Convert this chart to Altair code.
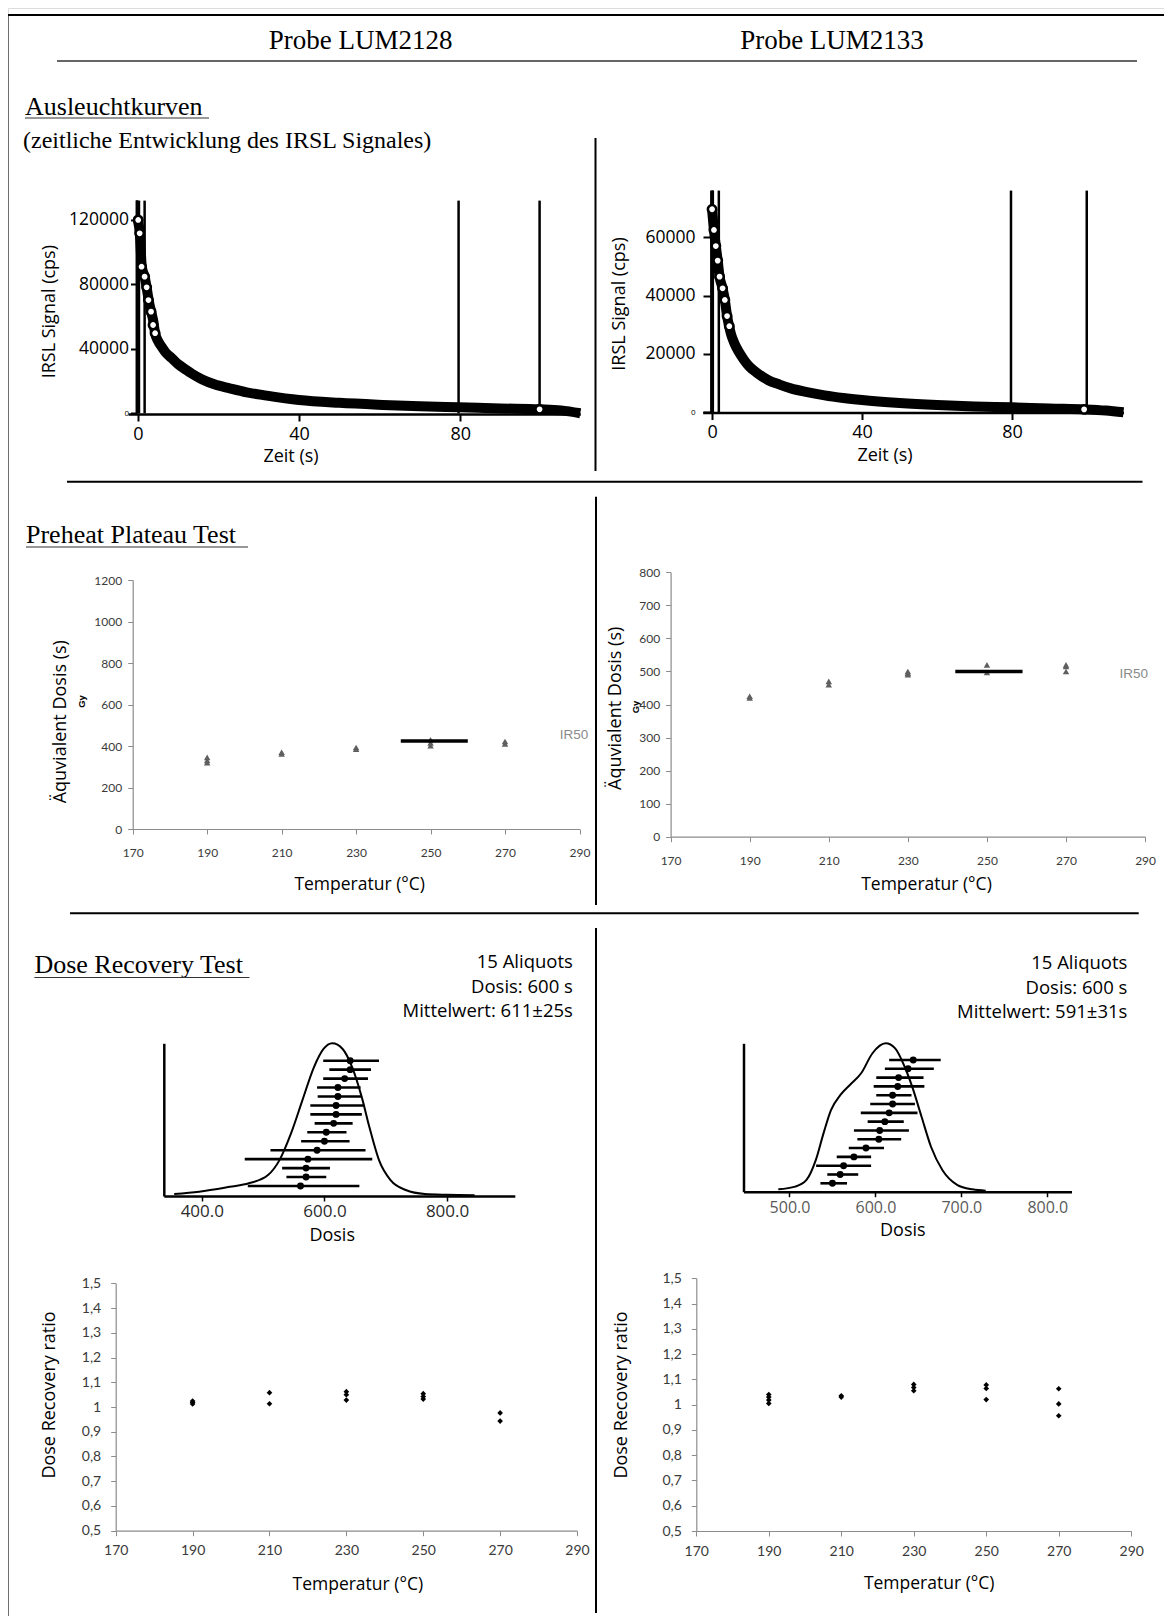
import altair as alt
import pandas as pd

W, H = 1156, 1608
OFF = 8


def P(v):
    return v - OFF


SERIF = "Liberation Serif"
SANS = "Open Sans"
XL = "Lato"
ARIAL = "Liberation Sans"

# ---------------- data ----------------
# IRSL decay curves (Ausleuchtkurven)
irsl_l_time = [0, 0.5, 1.0, 1.7, 2.2, 2.7, 3.3, 3.8, 4.3, 5, 6, 7, 8.5, 10, 12, 13.3, 16, 19, 22.8, 27,
               32, 40, 50, 60.8, 70, 79.7, 90, 99.7, 105, 109.8]
irsl_l_sig = [120000, 111700, 91000, 84800, 78200, 70300, 63100, 57900, 49700, 45000, 41000, 37500, 34100,
              30500, 27000, 24800, 21000, 18000, 15500, 13000, 11000, 8300, 6500, 5200, 4300, 3700, 3000,
              2500, 1800, 0]
irsl_l_circ_t = [0.1, 0.47, 0.94, 1.7, 2.2, 2.65, 3.3, 3.8, 4.3, 99.7]
irsl_l_circ_v = [120000, 111700, 91000, 84800, 78200, 70300, 63100, 54800, 49700, 2500]
irsl_l_spike_t = [-0.2, 0.3, 1.7, 79.6, 99.7]
irsl_l_spike_top = 132000

irsl_r_time = [0, 0.5, 1, 1.5, 2, 2.8, 3.4, 4, 5, 6, 7, 8.5, 10, 12, 15, 18, 21, 25, 30, 35, 40, 50, 60,
               70, 80, 90, 99.6, 105, 109.7]
irsl_r_sig = [69600, 62500, 57000, 52000, 46500, 42500, 38500, 33000, 27000, 23500, 21000, 18000, 15600,
              13500, 11000, 9500, 8200, 7000, 5800, 4900, 4200, 3200, 2500, 2000, 1700, 1300, 1000, 600, 0]
irsl_r_circ_t = [0, 0.5, 1, 1.5, 2, 2.8, 3.4, 4, 4.6, 99.2]
irsl_r_circ_v = [69600, 62500, 57000, 52000, 46500, 42500, 38500, 33000, 29500, 1000]
irsl_r_spike_t = [-0.2, 0.2, 1.8, 79.7, 99.9]
irsl_r_spike_top = 76000

# Preheat plateau test
ph_l_temp = [190, 190, 190, 210, 210, 230, 230, 250, 250, 250, 270, 270]
ph_l_de = [345, 330, 320, 370, 362, 393, 385, 430, 415, 402, 422, 410]
ph_l_plateau = (242, 260, 424)
ph_r_temp = [190, 190, 210, 210, 230, 230, 230, 250, 250, 270, 270, 270]
ph_r_de = [425, 420, 470, 460, 500, 490, 495, 520, 497, 520, 515, 500]
ph_r_plateau = (242, 259, 500)

# Dose recovery: kernel density curves
kde_l_dose = [355, 395.6, 445.5, 476.8, 508, 526.7, 545.5, 564, 582.8, 598.5, 612.8, 629.7, 645.3, 661,
              673.4, 689, 707.8, 732.7, 763.8, 800, 845]
kde_l_dens = [0.013, 0.028, 0.06, 0.083, 0.137, 0.235, 0.41, 0.626, 0.843, 0.963, 1.0, 0.963, 0.843, 0.646,
              0.45, 0.235, 0.104, 0.039, 0.013, 0.008, 0.005]
kde_r_dose = [487, 506.6, 519.8, 530.7, 539.6, 548.3, 559.3, 570.3, 583.4, 596.6, 612, 623, 634, 642.8,
              653.7, 664.7, 677.9, 695.5, 713, 728.4]
kde_r_dens = [0.016, 0.034, 0.079, 0.214, 0.393, 0.55, 0.652, 0.719, 0.798, 0.933, 1.0, 0.966, 0.842, 0.708,
              0.505, 0.303, 0.146, 0.045, 0.016, 0.007]

# Dose recovery: individual aliquots (top row first)
rows = list(range(1, 16))
de_l = [642, 642, 633, 622, 622, 619, 619, 615, 603, 600, 588, 573, 570, 570, 561]
lo_l = [598, 608, 598, 588, 589, 577, 577, 584, 572, 562, 512, 470, 531, 538, 475]
hi_l = [689, 676, 671, 659, 661, 665, 661, 646, 636, 641, 667, 678, 609, 603, 657]
de_r = [644, 638, 627, 626, 620, 620, 616, 611, 605, 604, 589, 575, 563, 559, 550]
lo_r = [616, 611, 601, 598, 601, 594, 583, 591, 575, 579, 569, 555, 531, 544, 536]
hi_r = [676, 668, 656, 657, 642, 646, 649, 633, 639, 630, 610, 595, 595, 580, 567]

# Dose recovery ratio vs preheat temperature
dr_l_temp = [190, 190, 190, 210, 210, 230, 230, 230, 250, 250, 250, 270, 270]
dr_l_ratio = [1.024, 1.012, 1.018, 1.058, 1.013, 1.062, 1.050, 1.028, 1.054, 1.042, 1.032, 0.976, 0.943]
dr_r_temp = [190, 190, 190, 190, 210, 210, 230, 230, 230, 250, 250, 250, 270, 270, 270]
dr_r_ratio = [1.04, 1.03, 1.018, 1.005, 1.035, 1.03, 1.08, 1.068, 1.055, 1.078, 1.064, 1.02, 1.063, 1.003,
              0.956]

temp_ticks = [170, 190, 210, 230, 250, 270, 290]

ONE = pd.DataFrame({"k": [0]})
layers = []


# ---------------- helpers ----------------
def dec_rule(x1, y1, x2, y2, w=2.0, color="black"):
    return alt.Chart(ONE).mark_rule(strokeWidth=w, color=color).encode(
        x=alt.value(P(x1)), y=alt.value(P(y1)), x2=alt.value(P(x2)), y2=alt.value(P(y2)))


def dec_text(s, x, y, size, font, align="left", baseline="alphabetic", angle=0, color="black",
             weight="normal"):
    return alt.Chart(ONE).mark_text(text=s, font=font, fontSize=size, align=align, baseline=baseline,
                                    angle=angle, color=color, fontWeight=weight).encode(
        x=alt.value(P(x)), y=alt.value(P(y)))


def lin(domain, r0, r1):
    return alt.Scale(domain=domain, range=[P(r0), P(r1)], nice=False, zero=False)


def bottom_axis(ypos, values, **kw):
    base = dict(orient="bottom", offset=P(ypos) - H, values=values, grid=False, title=None,
                labelFlush=False, labelOverlap=False)
    base.update(kw)
    return alt.Axis(**base)


def left_axis(xpos, values, **kw):
    base = dict(orient="left", offset=-P(xpos), values=values, grid=False, title=None,
                labelFlush=False, labelOverlap=False)
    base.update(kw)
    return alt.Axis(**base)


# ---------------- frame & headings ----------------
layers += [
    dec_rule(7.5, 15, 1167, 15),
    dec_rule(7.5, 15, 7.5, 1617),
    dec_rule(1167, 15, 1167, 1617),
    dec_rule(7.5, 1617, 1167, 1617),
    dec_text("Probe LUM2128", 360.7, 49, 27, SERIF, align="center"),
    dec_text("Probe LUM2133", 832, 48.5, 27, SERIF, align="center"),
    dec_rule(57, 61, 1137, 61, w=1.6, color="#333"),
    dec_text("Ausleuchtkurven", 25, 115, 26, SERIF),
    dec_rule(25, 118, 209, 118, w=1.2, color="#333"),
    dec_text("(zeitliche Entwicklung des IRSL Signales)", 23, 148, 24, SERIF),
    dec_rule(595.5, 138, 595.5, 471, w=2),
    dec_rule(67, 481.7, 1142.5, 481.7, w=2),
    dec_text("Preheat Plateau Test", 26, 543.3, 26, SERIF),
    dec_rule(26, 547, 248, 547, w=1.2, color="#333"),
    dec_rule(596, 496.7, 596, 905, w=2),
    dec_rule(70, 913.3, 1138.7, 913.3, w=2),
    dec_text("Dose Recovery Test", 34.4, 973.3, 26, SERIF),
    dec_rule(34.4, 977.5, 249.5, 977.5, w=1.2, color="#333"),
    dec_rule(596, 928, 596, 1613, w=2),
]


# ---------------- IRSL panels ----------------
def irsl_panel(t, sig, ct, cv, st, stop, xdom, xr, ydom, yr, ax_y, ax_x, yticks, ytick, ypad):
    xs = lin(xdom, xr[0], xr[1])
    ys = lin(ydom, yr[0], yr[1])
    xa = bottom_axis(ax_y, [0, 40, 80], format="d", tickSize=7, tickWidth=2, domainWidth=2.5,
                     domainColor="black", tickColor="black", labelColor="black", labelFont=SANS,
                     labelFontSize=18, labelPadding=4)
    ya = left_axis(ax_x, yticks, format="d", tickSize=ytick, tickWidth=2, domainWidth=2.5,
                   domainColor="black", tickColor="black", labelColor="black", labelFont=SANS,
                   labelFontSize={"condition": {"test": "datum.value == 0", "value": 8}, "value": 17.5},
                   labelPadding=ypad)
    band = alt.Chart(pd.DataFrame({"t": t, "s": sig})).mark_line(
        color="black", strokeWidth=10, interpolate="monotone").encode(
        x=alt.X("t:Q", scale=xs, axis=xa), y=alt.Y("s:Q", scale=ys, axis=ya))
    spikes = alt.Chart(pd.DataFrame({"t": st, "b": [0] * len(st), "top": [stop] * len(st)})).mark_rule(
        color="black", strokeWidth=2.5).encode(
        x=alt.X("t:Q", scale=xs, axis=xa), y=alt.Y("b:Q", scale=ys, axis=ya), y2="top:Q")
    circ = alt.Chart(pd.DataFrame({"t": ct, "s": cv})).mark_point(
        shape="circle", size=70, filled=False, color="black", strokeWidth=2.6, fill="white",
        fillOpacity=1).encode(
        x=alt.X("t:Q", scale=xs, axis=xa), y=alt.Y("s:Q", scale=ys, axis=ya))
    return alt.layer(spikes, band, circ)


layers.append(irsl_panel(irsl_l_time, irsl_l_sig, irsl_l_circ_t, irsl_l_circ_v, irsl_l_spike_t,
                         irsl_l_spike_top, [-2.4, 109.8], (128.1, 580.3), [0, 132500], (413.3, 199.8),
                         414, 136.5, [0, 40000, 80000, 120000], 6, 2))
layers.append(irsl_panel(irsl_r_time, irsl_r_sig, irsl_r_circ_t, irsl_r_circ_v, irsl_r_spike_t,
                         irsl_r_spike_top, [-2.5, 109.7], (702.7, 1123.5), [0, 76200], (412.3, 190.0),
                         412.5, 712, [0, 20000, 40000, 60000], 9, 8))
layers += [
    dec_text("IRSL Signal (cps)", 49.7, 311.7, 18, SANS, align="center", baseline="middle", angle=270),
    dec_text("IRSL Signal (cps)", 619.6, 304, 18, SANS, align="center", baseline="middle", angle=270),
    dec_text("Zeit (s)", 291, 457, 18, SANS, align="center", baseline="middle"),
    dec_text("Zeit (s)", 885, 456, 18, SANS, align="center", baseline="middle"),
]

# ---------------- Excel-style axes ----------------
GRAY = "#8c8c8c"
LAB = "#3a3a3a"


def excel_axes(ax_y, ax_x, yvals, xsize, ysize, xpad, ypad, yexpr=None):
    xa = bottom_axis(ax_y, temp_ticks, format="d", tickSize=5, tickWidth=1, domainWidth=1.2,
                     domainColor=GRAY, tickColor=GRAY, labelColor=LAB, labelFont=XL,
                     labelFontSize=xsize, labelPadding=xpad)
    ykw = dict(tickSize=5, tickWidth=1, domainWidth=1.2, domainColor=GRAY, tickColor=GRAY,
               labelColor=LAB, labelFont=XL, labelFontSize=ysize, labelPadding=ypad)
    if yexpr:
        ykw["labelExpr"] = yexpr
    else:
        ykw["format"] = "d"
    ya = left_axis(ax_x, yvals, **ykw)
    return xa, ya


def preheat_panel(temp, de, plateau, xr, ydom, yr, ystep):
    xs = lin([170, 290], xr[0], xr[1])
    ys = lin(ydom, yr[0], yr[1])
    xa, ya = excel_axes(yr[0], xr[0], list(range(0, ydom[1] + 1, ystep)), 12, 12, 13.5, 6)
    pts = alt.Chart(pd.DataFrame({"T": temp, "D": de})).mark_point(
        shape="triangle-up", size=42, filled=True, color="#5f5f5f", opacity=1).encode(
        x=alt.X("T:Q", scale=xs, axis=xa), y=alt.Y("D:Q", scale=ys, axis=ya))
    pl = alt.Chart(pd.DataFrame({"a": [plateau[0]], "b": [plateau[1]], "v": [plateau[2]]})).mark_rule(
        color="black", strokeWidth=3.5).encode(
        x=alt.X("a:Q", scale=xs, axis=xa), x2="b:Q", y=alt.Y("v:Q", scale=ys, axis=ya))
    return alt.layer(pts, pl)


layers.append(preheat_panel(ph_l_temp, ph_l_de, ph_l_plateau, (132.7, 579.5), [0, 1200], (829, 580), 200))
layers.append(preheat_panel(ph_r_temp, ph_r_de, ph_r_plateau, (670.6, 1145.1), [0, 800], (836.7, 572.3),
                            100))
layers += [
    dec_text("Äquvialent Dosis (s)", 61.2, 721.7, 18, SANS, align="center", baseline="middle", angle=270),
    dec_text("Äquvialent Dosis (s)", 615.9, 708.3, 18, SANS, align="center", baseline="middle", angle=270),
    dec_text("Gy", 82.3, 701.5, 9.5, ARIAL, align="center", baseline="middle", angle=270, weight="bold"),
    dec_text("Gy", 635.9, 707, 9.5, ARIAL, align="center", baseline="middle", angle=270, weight="bold"),
    dec_text("IR50", 574, 735, 13.5, ARIAL, align="center", baseline="middle", color="#8a8a8a"),
    dec_text("IR50", 1133.8, 674.3, 13.5, ARIAL, align="center", baseline="middle", color="#8a8a8a"),
    dec_text("Temperatur (°C)", 359.7, 884.5, 17.5, SANS, align="center", baseline="middle"),
    dec_text("Temperatur (°C)", 926.5, 885, 17.5, SANS, align="center", baseline="middle"),
]


# ---------------- KDE / dose recovery panels ----------------
def kde_panel(dose, dens, de, lo, hi, xdom, xr, ybot, ytop, rtop, rbot, ticks, lsize, lcolor):
    xs = lin(xdom, xr[0], xr[1])
    ys = lin([0, 1.0], ybot, ytop)
    rs = lin([1, 15], rtop, rbot)
    xa = bottom_axis(ybot, ticks, format=".1f", tickSize=5, tickWidth=1.5, domainWidth=2.5,
                     domainColor="black", tickColor="black", labelColor=lcolor, labelFont=SANS,
                     labelFontSize=lsize, labelPadding=2.5)
    ya = left_axis(xr[0], [0], ticks=False, labels=False, domainWidth=2.5, domainColor="black")
    curve = alt.Chart(pd.DataFrame({"d": dose, "k": dens})).mark_line(
        color="black", strokeWidth=2, interpolate="monotone").encode(
        x=alt.X("d:Q", scale=xs, axis=xa), y=alt.Y("k:Q", scale=ys, axis=ya))
    df = pd.DataFrame({"r": rows, "de": de, "lo": lo, "hi": hi})
    bars = alt.Chart(df).mark_rule(color="black", strokeWidth=2.6).encode(
        x=alt.X("lo:Q", scale=xs, axis=xa), x2="hi:Q", y=alt.Y("r:Q", scale=rs, axis=None))
    dots = alt.Chart(df).mark_circle(color="black", size=48, opacity=1).encode(
        x=alt.X("de:Q", scale=xs, axis=xa), y=alt.Y("r:Q", scale=rs, axis=None))
    errs = alt.layer(bars, dots)
    return alt.layer(curve, errs).resolve_scale(y="independent")


layers.append(kde_panel(kde_l_dose, kde_l_dens, de_l, lo_l, hi_l, [338, 910.5], (163.8, 514.8), 1196,
                        1043.3, 1060.7, 1186, [400, 600, 800], 17, "#2a2a2a"))
layers.append(kde_panel(kde_r_dose, kde_r_dens, de_r, lo_r, hi_r, [446.5, 828.2], (743.5, 1071.5), 1191.7,
                        1043.3, 1060, 1183.3, [500, 600, 700, 800], 16, "#5a5a5a"))
layers += [
    dec_text("15 Aliquots", 572.9, 962.3, 18.5, SANS, align="right", baseline="middle"),
    dec_text("Dosis: 600 s", 572.9, 986.7, 18.5, SANS, align="right", baseline="middle"),
    dec_text("Mittelwert: 611±25s", 572.9, 1010.7, 18.5, SANS, align="right", baseline="middle"),
    dec_text("15 Aliquots", 1127.4, 963.3, 18.5, SANS, align="right", baseline="middle"),
    dec_text("Dosis: 600 s", 1127.4, 988.3, 18.5, SANS, align="right", baseline="middle"),
    dec_text("Mittelwert: 591±31s", 1127.4, 1011.7, 18.5, SANS, align="right", baseline="middle"),
    dec_text("Dosis", 332.2, 1236, 18, SANS, align="center", baseline="middle"),
    dec_text("Dosis", 902.8, 1230.5, 18, SANS, align="center", baseline="middle"),
]

# ---------------- dose recovery ratio panels ----------------
RATIO_EXPR = "abs(datum.value - 1) < 0.001 ? '1' : replace(format(datum.value, '.1f'), '.', ',')"
ratio_ticks = [0.5, 0.6, 0.7, 0.8, 0.9, 1.0, 1.1, 1.2, 1.3, 1.4, 1.5]


def ratio_panel(temp, ratio, xr, yr, ypad):
    xs = lin([170, 290], xr[0], xr[1])
    ys = lin([0.5, 1.5], yr[0], yr[1])
    xa, ya = excel_axes(yr[0], xr[0], ratio_ticks, 14, 14, 8, ypad, yexpr=RATIO_EXPR)
    return alt.Chart(pd.DataFrame({"T": temp, "R": ratio})).mark_point(
        shape="diamond", size=32, filled=True, color="black", opacity=1).encode(
        x=alt.X("T:Q", scale=xs, axis=xa), y=alt.Y("R:Q", scale=ys, axis=ya))


layers.append(ratio_panel(dr_l_temp, dr_l_ratio, (115.7, 577), (1530.7, 1283.3), 10))
layers.append(ratio_panel(dr_r_temp, dr_r_ratio, (696.3, 1131.2), (1531, 1278.3), 10))
layers += [
    dec_text("Dose Recovery ratio", 49.8, 1395, 18, SANS, align="center", baseline="middle", angle=270),
    dec_text("Dose Recovery ratio", 621.5, 1395, 18, SANS, align="center", baseline="middle", angle=270),
    dec_text("Temperatur (°C)", 357.8, 1585, 17.5, SANS, align="center", baseline="middle"),
    dec_text("Temperatur (°C)", 929.2, 1584.3, 17.5, SANS, align="center", baseline="middle"),
]

chart = alt.layer(*layers).resolve_scale(x="independent", y="independent").properties(
    width=W, height=H, padding=0, autosize=alt.AutoSizeParams(type="none")
).configure_view(strokeWidth=0).configure(background="white")

chart.save("out.html", embed_options={"renderer": "svg", "actions": False})
